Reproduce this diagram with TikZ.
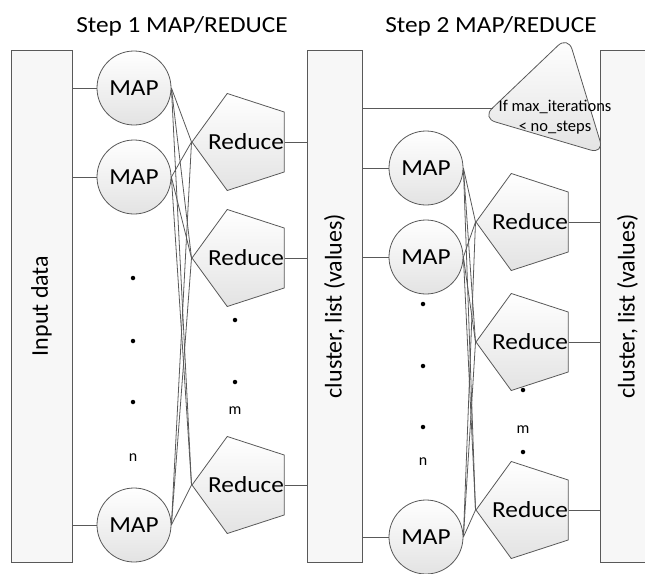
\documentclass[tikz,border=0pt]{standalone}
\usepackage{fontspec}
\setmainfont{Carlito}
\newfontfamily\widefont{Carlito}[FakeStretch=1.1]
\usetikzlibrary{shapes.geometric}
\begin{document}
\begin{tikzpicture}[x=1pt, y=-1pt,
    ink/.style={draw=black!65, line width=0.8pt},
    bar/.style={ink, fill=gray!6, minimum width=#1, minimum height=512pt, inner sep=0pt},
    bartext/.style={rotate=90, font=\fontsize{24}{28}\selectfont},
    mapnode/.style={circle, ink, top color=white, bottom color=gray!22, minimum size=74pt, inner sep=0pt, font=\widefont\fontsize{23}{26}\selectfont},
    rednode/.style={regular polygon, regular polygon sides=5, shape border rotate=90, ink, top color=white, bottom color=gray!22, minimum size=102pt, inner sep=0pt},
    redtext/.style={font=\widefont\fontsize{23}{26}\selectfont},
    dot/.style={circle, fill=black, inner sep=0pt, minimum size=4.5pt},
    count/.style={font=\fontsize{16}{18}\selectfont},
    title/.style={anchor=base, font=\widefont\fontsize{23}{26}\selectfont}]
  \useasboundingbox (0,0) rectangle (645,573);

  % titles
  \node[title] (title1) at (182,32) {Step 1 MAP/REDUCE};
  \node[title] (title2) at (491,32) {Step 2 MAP/REDUCE};

  % bars
  \node[bar=61pt] (input) at (41.5,306) {};
  \node[bartext] at (input) {Input data};
  \node[bar=55pt] (clist1) at (334.5,306) {};
  \node[bartext] at (clist1) {cluster, list (values)};
  \node[bar=55pt] (clist2) at (627.5,306) {};
  \node[bartext] at (clist2) {cluster, list (values)};

  % step 1
  \node[mapnode] (map11) at (134,88) {MAP};
  \node[mapnode] (map12) at (134,177) {MAP};
  \node[mapnode] (map13) at (134,525) {MAP};
  \node[rednode] (red11) at (243,142) {};
  \node[rednode] (red12) at (243,258) {};
  \node[rednode] (red13) at (243,485) {};
  \foreach \y in {278,341,402} \node[dot] at (133,\y) {};
  \node[count] (n1) at (133,458) {n};
  \foreach \y in {320,382} \node[dot] at (235,\y) {};
  \node[count] (m1) at (235,411) {m};

  % step 2
  \node[mapnode] (map21) at (426,168) {MAP};
  \node[mapnode] (map22) at (426,257) {MAP};
  \node[mapnode] (map23) at (426,537) {MAP};
  \node[rednode] (red21) at (527,222) {};
  \node[rednode] (red22) at (527,342) {};
  \node[rednode] (red23) at (527,510) {};
  \foreach \y in {304,366,427} \node[dot] at (423,\y) {};
  \node[count] (n2) at (423,462) {n};
  \foreach \y in {390,452} \node[dot] at (523,\y) {};
  \node[count] (m2) at (523,430) {m};

  \foreach \s in {1,2}
    \foreach \r in {1,2,3}
      \node[redtext] at ([xshift=3pt]red\s\r) {Reduce};

  % stop condition
  \draw[ink, top color=white, bottom color=gray!22, rounded corners=14pt] (568,36) -- (482,118) -- (604,154) -- cycle;
  \coordinate (cond) at (493,108);
  \node[align=center, font=\fontsize{16.5}{20}\selectfont] (condtext) at (555,117) {If max\_iterations\\< no\_steps};

  % connectors
  \foreach \s in {1,2} {
    \foreach \m in {1,2,3}
      \foreach \r in {1,2,3}
        \draw[ink] (map\s\m.east) -- (red\s\r.west);
  }
  \foreach \m in {1,2,3} {
    \draw[ink] (input.east |- map1\m) -- (map1\m);
    \draw[ink] (red1\m) -- (red1\m -| clist1.west);
    \draw[ink] (clist1.east |- map2\m) -- (map2\m);
    \draw[ink] (red2\m) -- (red2\m -| clist2.west);
  }
  \draw[ink] (clist1.east |- cond) -- (cond);
\end{tikzpicture}
\end{document}
